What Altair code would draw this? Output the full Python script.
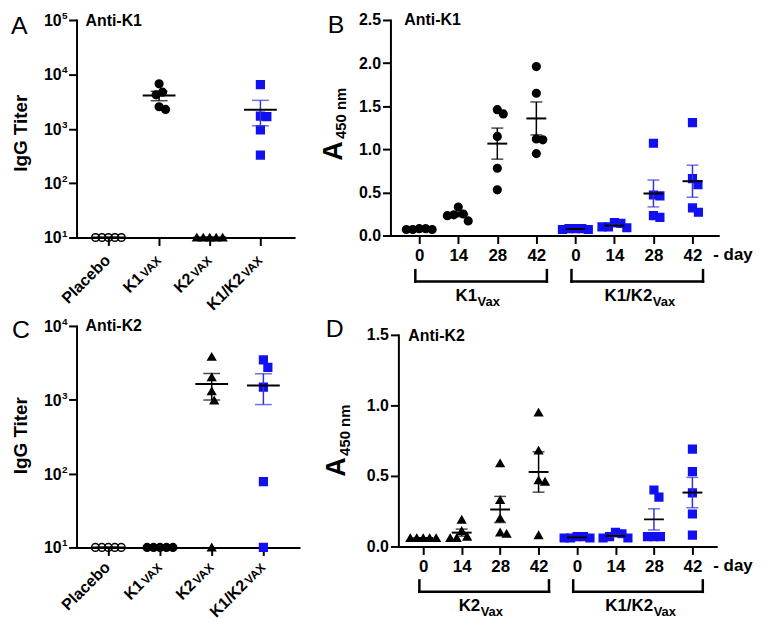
import math
import altair as alt
import pandas as pd

FONT = "Liberation Sans"
BLACK = "#000000"
BLUE = "#1010f0"
BLUE_ERR = "#3434d6"

# ----------------------------- data -----------------------------
titer_groups = ["Placebo", "K1", "K2", "K1/K2"]
titer_label_main = ["Placebo", "K1", "K2", "K1/K2"]
titer_label_sub = ["", "VAX", "VAX", "VAX"]

# Panel A: anti-K1 IgG titer
A_placebo = [10, 10, 10, 10, 10]
A_k1 = [6700, 4700, 4200, 2270, 2540]
A_k2 = [10, 10, 10, 10, 10]
A_k1k2 = [6500, 1670, 1710, 950, 328]
A_ticks = [10, 100, 1000, 10000, 100000]

# Panel C: anti-K2 IgG titer
C_placebo = [10, 10, 10, 10, 10]
C_k1 = [10, 10, 10, 10, 10]
C_k2 = [3830, 2020, 1310, 980, 10]
C_k1k2 = [3460, 2750, 1480, 78, 10]
C_ticks = [10, 100, 1000, 10000]

day_labels = ["0", "14", "28", "42"]

# Panel B: anti-K1 A450 by day
B_k1_d0 = [0.08, 0.08, 0.07, 0.07, 0.07]
B_k1_d14 = [0.33, 0.17, 0.25, 0.23, 0.24]
B_k1_d28 = [1.41, 1.46, 1.15, 0.78, 0.53]
B_k1_d42 = [1.96, 1.65, 1.12, 1.11, 0.95]
B_k1k2_d0 = [0.08, 0.08, 0.08, 0.07, 0.07]
B_k1k2_d14 = [0.15, 0.14, 0.10, 0.09, 0.10]
B_k1k2_d28 = [1.07, 0.47, 0.46, 0.21, 0.23]
B_k1k2_d42 = [1.31, 0.66, 0.59, 0.27, 0.32]

# Panel D: anti-K2 A450 by day
D_k2_d0 = [0.06, 0.06, 0.06, 0.06, 0.06]
D_k2_d14 = [0.19, 0.11, 0.06, 0.06, 0.07]
D_k2_d28 = [0.59, 0.33, 0.20, 0.09, 0.10]
D_k2_d42 = [0.95, 0.68, 0.47, 0.46, 0.08]
D_k1k2_d0 = [0.07, 0.07, 0.06, 0.06, 0.06]
D_k1k2_d14 = [0.10, 0.09, 0.07, 0.06, 0.06]
D_k1k2_d28 = [0.40, 0.35, 0.07, 0.07, 0.07]
D_k1k2_d42 = [0.69, 0.53, 0.38, 0.23, 0.08]

STYLE = {
    "Placebo": dict(shape="circle", fill="transparent", stroke=BLACK, err=BLACK),
    "K1": dict(shape="circle", fill=BLACK, stroke=BLACK, err=BLACK),
    "K2": dict(shape="triangle-up", fill=BLACK, stroke=BLACK, err=BLACK),
    "K1/K2": dict(shape="square", fill=BLUE, stroke=BLUE, err=BLUE_ERR),
}

AW = {'K': .722, '1': .556, '2': .556, '/': .278, 'V': .667, 'A': .722,
      'X': .667, 'a': .556, 'x': .556, ' ': .278}


def tw(s, fs):
    return sum(AW.get(c, .6) for c in s) * fs


def swarm_offsets(ypx, dxmin=6.5, dymin=10.0, step=0.5):
    order = sorted(range(len(ypx)), key=lambda i: ypx[i])
    placed = []
    out = [0.0] * len(ypx)
    for i in order:
        y = ypx[i]
        k = 0
        chosen = None
        while chosen is None:
            for c in ([0.0] if k == 0 else [k * step, -k * step]):
                if all(((c - px) / dxmin) ** 2 + ((y - py) / dymin) ** 2 >= 1 for px, py in placed):
                    chosen = c
                    break
            k += 1
        out[i] = chosen
        placed.append((chosen, y))
    return out


def axis(**kw):
    base = dict(domainColor=BLACK, domainWidth=2, domainCap="square", tickColor=BLACK,
                tickWidth=2, tickSize=8, labelFont=FONT, labelFontWeight="bold",
                labelFontSize=16, labelColor=BLACK, labelPadding=2, grid=False,
                title=None, labelFlush=False, labelOverlap=False)
    base.update(kw)
    return alt.Axis(**base)


def txt(text, x, y, **mk):
    return alt.Chart(pd.DataFrame({"t": [text]})).mark_text(
        font=FONT, color=BLACK, **mk).encode(
        text="t:N", x=alt.value(x), y=alt.value(y))


def make_panel(spec, groups):
    W, H = spec["width"], spec["height"]
    xd = spec["xdom"]
    xr = spec.get("xrange", [0, W])
    yr = spec.get("yrange", [H, 0])
    yd = spec["ydom"]
    log = spec["log"]
    xppu = (xr[1] - xr[0]) / (xd[1] - xd[0])

    def ypx(v):
        if log:
            f = (math.log10(v) - math.log10(yd[0])) / (math.log10(yd[1]) - math.log10(yd[0]))
        else:
            f = (v - yd[0]) / (yd[1] - yd[0])
        return yr[0] + f * (yr[1] - yr[0])

    rows = []
    for name, pos, vals in groups:
        st = STYLE[name]
        offs = swarm_offsets([ypx(v) for v in vals])
        for v, o in zip(vals, offs):
            rows.append(dict(pos=pos, xj=pos + o / xppu, v=v, **st))
    df = pd.DataFrame(rows)

    xsk = dict(domain=xd, nice=False, zero=False)
    if "xrange" in spec:
        xsk["range"] = xr
    xs = alt.Scale(**xsk)
    ysk = dict(domain=yd, nice=False)
    if log:
        ysk["type"] = "log"
    else:
        ysk["zero"] = False
    if "yrange" in spec:
        ysk["range"] = yr
    ys = alt.Scale(**ysk)
    xa = spec["xaxis"]
    ya = spec["yaxis"]

    def X(f):
        return alt.X(f, type="quantitative", scale=xs, axis=xa)

    def Y(f, agg=None):
        if agg:
            return alt.Y(f, type="quantitative", aggregate=agg, scale=ys, axis=ya)
        return alt.Y(f, type="quantitative", scale=ys, axis=ya)

    pts = alt.Chart(df).mark_point(filled=True, size=60, strokeWidth=1.5, opacity=1).encode(
        x=X("xj"), y=Y("v"),
        shape=alt.Shape("shape:N", scale=None),
        fill=alt.Fill("fill:N", scale=None),
        stroke=alt.Stroke("stroke:N", scale=None),
    )
    err = alt.Chart(df).mark_errorbar(extent="stderr", orient="vertical",
                                      ticks={"size": spec["cap"]}, thickness=1.5).encode(
        x=X("pos"), y=Y("v"), color=alt.Color("err:N", scale=None))
    mean = alt.Chart(df).mark_tick(orient="horizontal", size=spec["meanw"], thickness=2,
                                   color=BLACK).encode(x=X("pos"), y=Y("v", "mean"))
    layers = [pts, err, mean]
    return layers, X, Y


def titer_panel(spec, data, ticks, letter, title, lxy, txy, igg_xy, label_y):
    groups = [(g, i + 1, vals) for i, (g, vals) in enumerate(zip(titer_groups, data))]
    layers, X, Y = make_panel(spec, groups)

    # y tick labels: "10" with a superscript exponent
    tl = pd.DataFrame({"val": ticks,
                       "base": ["10"] * len(ticks),
                       "exp": [str(int(round(math.log10(t)))) for t in ticks]})
    layers.append(alt.Chart(tl).mark_text(font=FONT, fontWeight="bold", fontSize=16, color=BLACK,
                                          align="right", baseline="middle", dy=1).encode(
        x=alt.value(-15), y=Y("val"), text="base:N"))
    layers.append(alt.Chart(tl).mark_text(font=FONT, fontWeight="bold", fontSize=10, color=BLACK,
                                          align="right", baseline="middle", dy=-4).encode(
        x=alt.value(-9), y=Y("val"), text="exp:N"))

    lab = pd.DataFrame({"pos": [1, 2, 3, 4], "main": titer_label_main, "sub": titer_label_sub})
    common = dict(angle=315, align="right", baseline="alphabetic", font=FONT,
                  fontWeight="bold", color=BLACK)
    wsub = tw("VAX", 12)
    sub = alt.Chart(lab).transform_filter("datum.sub != ''").mark_text(
        fontSize=12, dx=2, dy=2, **common).encode(x=X("pos"), y=alt.value(label_y), text="sub:N")
    main_s = alt.Chart(lab).transform_filter("datum.sub != ''").mark_text(
        fontSize=16, dx=2 - wsub - 1, dy=2, **common).encode(x=X("pos"), y=alt.value(label_y), text="main:N")
    main_p = alt.Chart(lab).transform_filter("datum.sub == ''").mark_text(
        fontSize=16, dx=2, dy=2, **common).encode(x=X("pos"), y=alt.value(label_y), text="main:N")
    layers += [sub, main_s, main_p]
    layers.append(txt(letter, lxy[0], lxy[1], fontSize=25, align="left", baseline="top"))
    layers.append(txt(title, txy[0], txy[1], fontSize=16, fontWeight="bold", align="left", baseline="middle"))
    layers.append(txt("IgG Titer", igg_xy[0], igg_xy[1], fontSize=19, fontWeight="bold",
                      angle=270, align="center", baseline="middle"))
    return alt.layer(*layers).properties(width=spec["width"], height=spec["height"])


specA = dict(width=219, height=219, xdom=[0.37, 4.665], ydom=[10, 100000], log=True,
             cap=17, meanw=33,
             xaxis=axis(values=[1, 2, 3, 4], labels=False),
             yaxis=axis(values=A_ticks, labels=False))
specC = dict(width=224, height=223, xdom=[0.385, 4.69], ydom=[10, 10000], log=True,
             cap=17, meanw=33,
             xaxis=axis(values=[1, 2, 3, 4], labels=False),
             yaxis=axis(values=C_ticks, labels=False))

pA = titer_panel(specA, [A_placebo, A_k1, A_k2, A_k1k2], A_ticks, "A", "Anti-K1",
                 (-66, -6), (9, 1), (-56, 114), 219 + 24)
pC = titer_panel(specC, [C_placebo, C_k1, C_k2, C_k1k2], C_ticks, "C", "Anti-K2",
                 (-65, -8), (9, 0), (-56, 110.5), 223 + 21)


def elisa_panel(spec, g1name, g1data, g2name, letter, title, lxy, txy, a_xy, s_xy,
                day_xy, bracket_y, label_base):
    groups = []
    for i, vals in enumerate(g1data):
        groups.append((g1name, i + 1, vals))
    for i, vals in enumerate(spec["g2data"]):
        groups.append((g2name, i + 5, vals))
    layers, X, Y = make_panel(spec, groups)

    br = pd.DataFrame({
        "x0": [1 - 0.1, 5 - 0.1], "x1": [4 + 0.27, 8 + 0.27],
        "center": [2.5, 6.5], "main": [g1name, g2name], "sub": ["Vax", "Vax"],
    })
    ends = pd.DataFrame({"xe": list(br["x0"]) + list(br["x1"])})
    layers.append(alt.Chart(br).mark_rule(strokeWidth=2.5, color=BLACK, strokeCap="square").encode(
        x=X("x0"), x2="x1:Q", y=alt.value(bracket_y)))
    layers.append(alt.Chart(ends).mark_rule(strokeWidth=2.5, color=BLACK, strokeCap="square").encode(
        x=X("xe"), y=alt.value(bracket_y - 11.5), y2=alt.value(bracket_y)))
    extra = [0, 6]
    for i, (m, s) in enumerate(zip(br["main"], br["sub"])):
        wm, ws = tw(m, 17), tw(s, 13)
        split = -(wm + ws) / 2 + wm + extra[i]
        flt = "datum.main == '%s'" % m
        layers.append(alt.Chart(br).transform_filter(flt).mark_text(
            font=FONT, fontWeight="bold", fontSize=17, color=BLACK, align="right",
            baseline="alphabetic", dx=split).encode(
            x=X("center"), y=alt.value(label_base), text="main:N"))
        layers.append(alt.Chart(br).transform_filter(flt).mark_text(
            font=FONT, fontWeight="bold", fontSize=13, color=BLACK, align="left",
            baseline="alphabetic", dx=split + 0.5).encode(
            x=X("center"), y=alt.value(label_base + 5), text="sub:N"))

    layers.append(txt(letter, lxy[0], lxy[1], fontSize=25, align="left", baseline="top"))
    layers.append(txt(title, txy[0], txy[1], fontSize=16, fontWeight="bold", align="left", baseline="middle"))
    layers.append(txt("A", a_xy[0], a_xy[1], fontSize=27, fontWeight="bold", angle=270,
                      align="center", baseline="middle"))
    layers.append(txt("450 nm", s_xy[0], s_xy[1], fontSize=15, fontWeight="bold", angle=270,
                      align="center", baseline="middle"))
    layers.append(txt("- day", day_xy[0], day_xy[1], fontSize=17, fontWeight="bold",
                      align="left", baseline="middle"))
    return alt.layer(*layers).properties(width=spec["width"], height=spec["height"])


day_expr = "['0','14','28','42'][(datum.value - 1) % 4]"

specB = dict(width=330, height=217, xdom=[0.262, 8.66], ydom=[0, 2.5], log=False,
             cap=12, meanw=20,
             g2data=[B_k1k2_d0, B_k1k2_d14, B_k1k2_d28, B_k1k2_d42],
             xaxis=axis(values=[1, 2, 3, 4, 5, 6, 7, 8], labelExpr=day_expr,
                        labelFontSize=17, labelPadding=4),
             yaxis=axis(values=[0, 0.5, 1.0, 1.5, 2.0, 2.5], format=".1f"))
specD = dict(width=328, height=222, xdom=[0.354, 8.62], xrange=[8, 328],
             ydom=[0, 1.5], yrange=[222, 9], log=False, cap=12, meanw=20,
             g2data=[D_k1k2_d0, D_k1k2_d14, D_k1k2_d28, D_k1k2_d42],
             xaxis=axis(values=[1, 2, 3, 4, 5, 6, 7, 8], labelExpr=day_expr,
                        labelFontSize=17, labelPadding=4),
             yaxis=axis(values=[0, 0.5, 1.0, 1.5], format=".1f", offset=-8))

pB = elisa_panel(specB, "K1", [B_k1_d0, B_k1_d14, B_k1_d28, B_k1_d42], "K1/K2",
                 "B", "Anti-K1", (-63, -7), (14, 0), (-56.5, 132), (-50, 94),
                 (325, 236.7), 263.3, 283.3)
pD = elisa_panel(specD, "K2", [D_k2_d0, D_k2_d14, D_k2_d28, D_k2_d42], "K1/K2",
                 "D", "Anti-K2", (-65, -9), (18, 10), (-53.5, 142), (-45.5, 105),
                 (325, 242), 267.7, 286.7)

chart = alt.concat(pA, pB, pC, pD, columns=2, spacing={"row": 89, "column": 92},
                   bounds="flush", align="each").properties(
    padding={"left": 2, "top": 0, "right": 0, "bottom": 0}).configure_view(
    stroke="transparent")

chart.save("out.html", embed_options={"renderer": "svg", "actions": False})
